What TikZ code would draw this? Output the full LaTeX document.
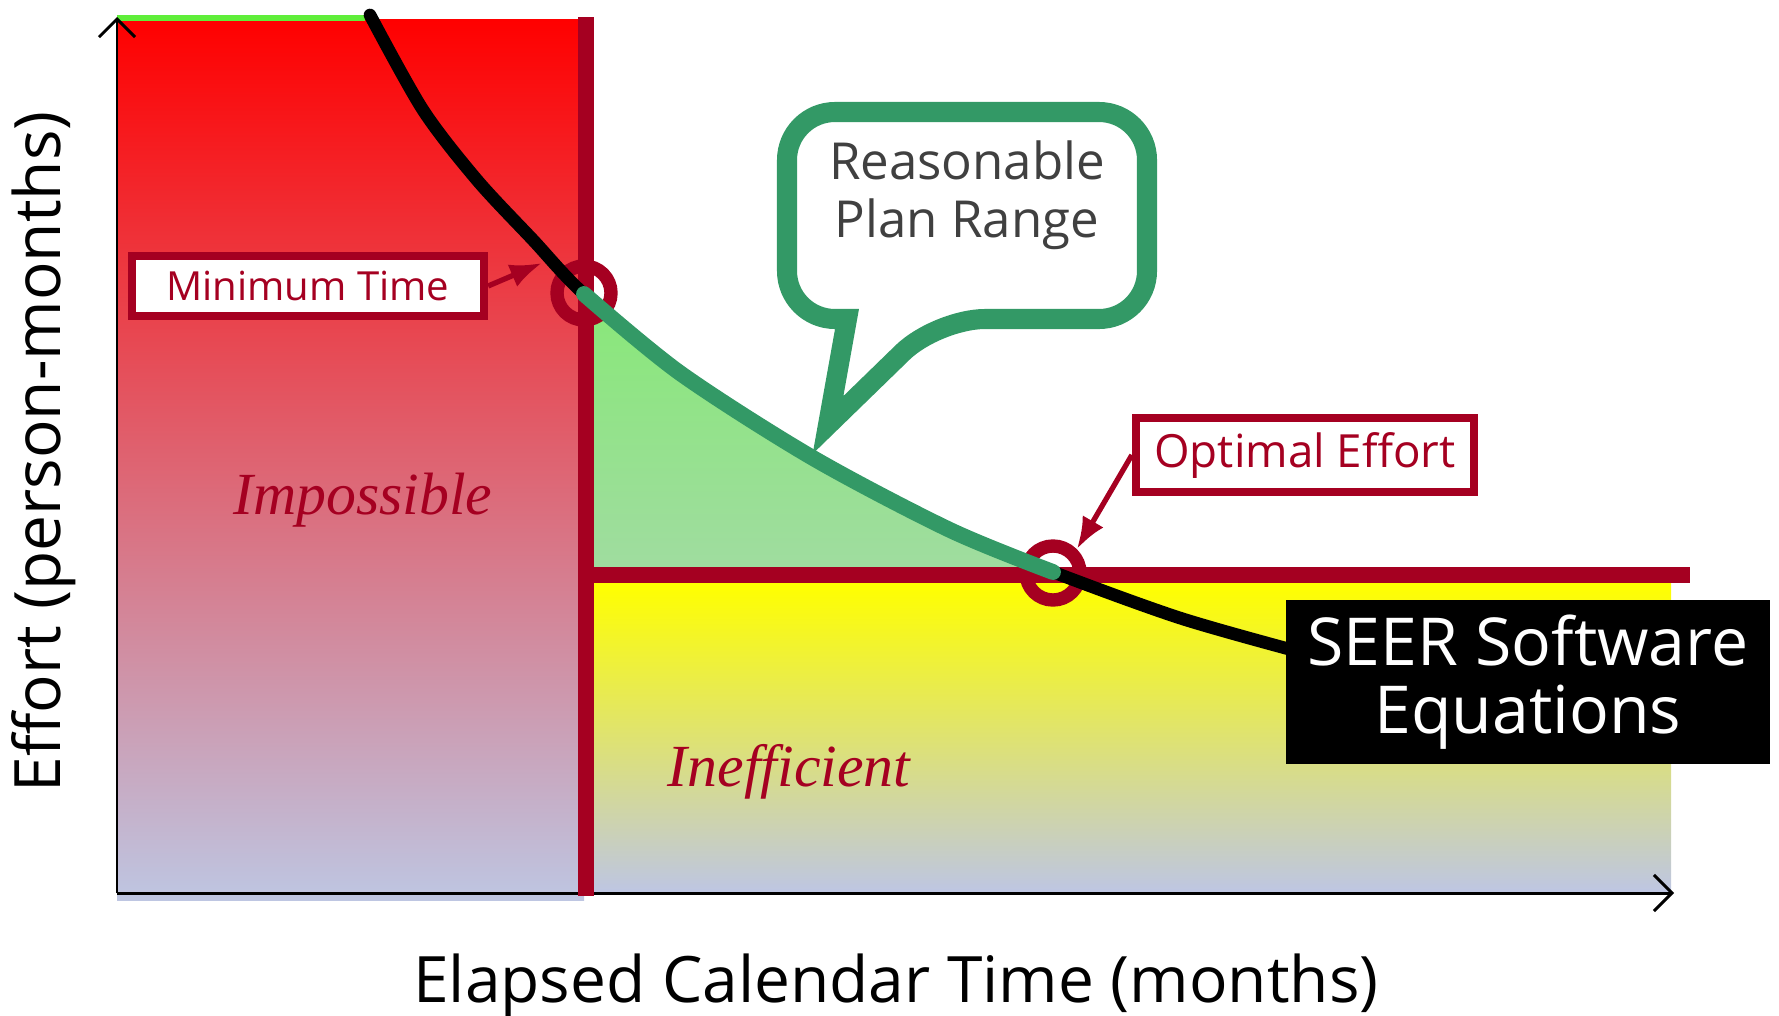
\documentclass[tikz,border=0pt]{standalone}
\usepackage{fontspec}
\setsansfont{Open Sans}
\newfontfamily\zonefont{Liberation Serif}
\usetikzlibrary{arrows.meta}
\definecolor{seermaroon}{HTML}{A50021}
\definecolor{plangreen}{HTML}{339966}
\definecolor{lavend}{HTML}{BEC6E2}
\definecolor{lightgrn}{HTML}{88E878}
\definecolor{palegrn}{HTML}{A0DCA0}
\definecolor{stripgrn}{HTML}{5FEE3A}
\definecolor{calltext}{HTML}{404040}
\tikzset{
  tag/.style={draw=seermaroon, line width=2.3pt, fill=white, text=seermaroon,
    font=\sffamily\fontsize{11.4}{14}\selectfont, inner sep=0pt},
  ring/.style={circle, draw=seermaroon, line width=3.8pt, minimum size=0.54cm, inner sep=0pt},
  pointer/.style={seermaroon, line width=1.5pt, -{Latex[length=0.32cm, width=0.24cm]}},
  limit/.style={seermaroon, line width=4.3pt},
  zone/.style={text=seermaroon, font=\zonefont\itshape\fontsize{17}{20}\selectfont},
  axislabel/.style={font=\sffamily\fontsize{18.2}{21}\selectfont},
  axis/.style={line width=0.85pt, -{Straight Barb[length=1.8mm]}}
}
\def\plancurve{(584,294) (680,373) (813,458) (950,530) (1053,572)}
\begin{document}
\begin{tikzpicture}[x=0.01cm, y=-0.01cm]
  \useasboundingbox (0,0) rectangle (1779,1015);
  % regions
  \shade[top color=red, bottom color=lavend] (117,19) rectangle (584,900);
  \fill[stripgrn] (117,15) rectangle (365,21);
  \shade[top color=yellow, bottom color=lavend] (592,583) rectangle (1671,891);
  \shade[top color=lightgrn, bottom color=palegrn] plot[smooth] coordinates {\plancurve} -- (592,568) -- (592,293) -- cycle;
  % axes
  \coordinate (origin) at (117,893);
  \coordinate (ytop) at (117,17);
  \coordinate (xend) at (1674,893);
  \draw[axis] (origin) -- (ytop);
  \draw[axis] (origin) -- (xend);
  % limits
  \coordinate (vtop) at (586,17);
  \coordinate (vbot) at (586,896);
  \coordinate (hleft) at (586,575);
  \coordinate (hright) at (1690,575);
  \draw[limit] (vtop) -- (vbot);
  \draw[limit] (hleft) -- (hright);
  \node[ring] (minring) at (584,293) {};
  \node[ring] (optring) at (1053,573) {};
  % curves
  \draw[line width=3.6pt, line cap=round] plot[smooth] coordinates {(370,15) (423,110) (477,180) (533,240) (584,294) (680,373) (813,458) (950,530) (1053,572) (1180,618) (1300,652)};
  \draw[plangreen, line width=4.5pt, line cap=round] plot[smooth] coordinates {\plancurve};
  % callout
  \draw[plangreen, line width=5.7pt, fill=white] (967,112) [rounded corners=0.48cm] -- (1147,112) -- (1147,319) -- (937,319) [sharp corners] -- (828,425) -- (847,319) [rounded corners=0.48cm] -- (787,319) -- (787,112) -- cycle;
  \node[text=calltext, align=center, font=\sffamily\fontsize{14.5}{16.5}\selectfont] (plan) at (967,195) {Reasonable\\Plan Range};
  % labels
  \node[tag, minimum width=3.52cm, minimum height=0.6cm] (mintime) at (308,286) {Minimum Time};
  \node[tag, minimum width=3.38cm, minimum height=0.74cm, font=\sffamily\fontsize{13}{15}\selectfont] (optimal) at (1305,455) {Optimal Effort};
  \coordinate (minpoint) at (542,263);
  \draw[pointer] (mintime.east) -- (minpoint);
  \draw[pointer] (optimal.west) -- (optring.45);
  \node[fill=black, text=white, align=center, minimum width=4.84cm, minimum height=1.63cm,
    font=\sffamily\fontsize{18.8}{19.5}\selectfont] (seer) at (1528,682) {SEER Software\\Equations};
  \node[zone] (impossible) at (363,500) {Impossible};
  \node[zone] (inefficient) at (789,772) {Inefficient};
  \node[axislabel, rotate=90] (effort) at (44,452) {Effort (person-months)};
  \node[axislabel] (elapsed) at (896,986) {Elapsed Calendar Time (months)};
\end{tikzpicture}
\end{document}
